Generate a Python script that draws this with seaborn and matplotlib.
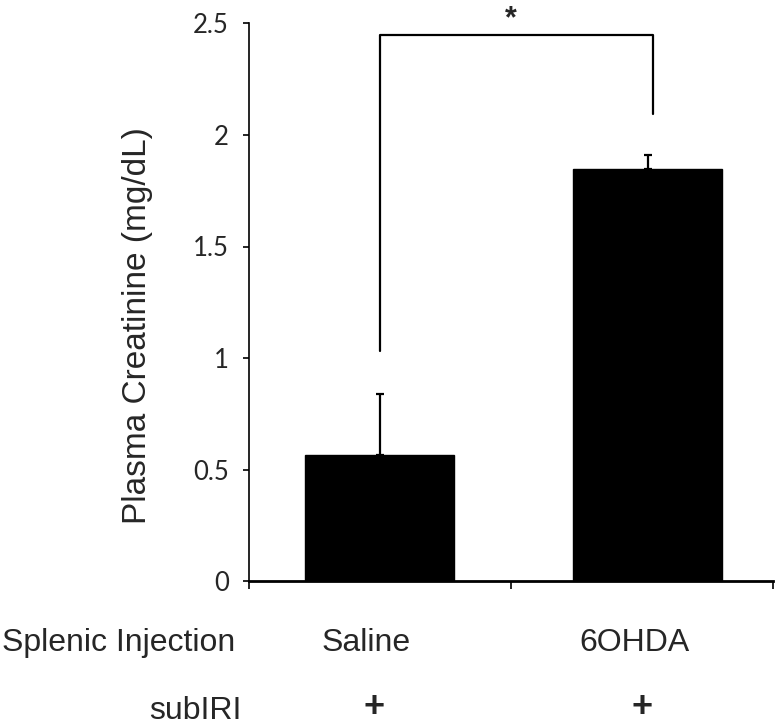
import matplotlib
matplotlib.use("Agg")
import matplotlib.pyplot as plt
import matplotlib.transforms as mtransforms
import pandas as pd
import seaborn as sns

# Datos
grupos = ["Saline", "6OHDA"]
media = [0.567, 1.848]
error_sup = [0.273, 0.062]
subiri = ["+", "+"]
yticks = [0, 0.5, 1, 1.5, 2, 2.5]
ytick_labels = ["0", "0.5", "1", "1.5", "2", "2.5"]

df = pd.DataFrame({"grupo": grupos, "media": media})

sns.set_style("white")
plt.rcParams["font.family"] = ["Liberation Sans", "DejaVu Sans"]

fig = plt.figure(figsize=(7.77, 7.25), dpi=100)
ax = fig.add_axes([0.3205, 0.1986, 0.6744, 0.769])

sns.barplot(data=df, x="grupo", y="media", color="black", width=0.556,
            saturation=1, errorbar=None, ax=ax)
for p in ax.patches:
    p.set_edgecolor("black")

# Barras de error solo hacia arriba
ax.errorbar(range(len(grupos)), media, yerr=[[0] * len(grupos), error_sup],
            fmt="none", ecolor="black", elinewidth=1.6, capsize=2.6,
            capthick=1.6, zorder=3)

ax.set_ylim(0, 2.5)
ax.set_xlim(-0.487, 1.468)
ax.set_yticks(yticks)
ax.set_yticklabels(ytick_labels, family=["Lato", "DejaVu Sans"], fontsize=18.5)
ax.set_xticks([-0.487, 0.49, 1.468])
ax.set_xticklabels([])
ax.set_xlabel("")
ax.set_ylabel("")
ax.tick_params(axis="y", direction="out", length=4.5, width=1.2, pad=10,
               color="black", left=True)
ax.tick_params(axis="x", direction="out", length=6, width=1.2,
               color="black", bottom=True)

for s in ["top", "right"]:
    ax.spines[s].set_visible(False)
ax.spines["left"].set_linewidth(1.2)
ax.spines["left"].set_color("black")
ax.spines["bottom"].set_linewidth(2.0)
ax.spines["bottom"].set_color("black")

# Etiqueta del eje y
fig.text(146 / 777, 1 - 326 / 725, "Plasma Creatinine (mg/dL)", rotation=90,
         ha="center", va="baseline", rotation_mode="anchor", fontsize=24)

# Corchete de significancia
ax.plot([0, 0, 1.02, 1.02], [1.03, 2.45, 2.45, 2.094], color="black",
        lw=1.6, clip_on=False)
ax.text(0.49, 2.52, "*", ha="center", va="center", fontsize=22,
        fontweight="bold", clip_on=False)

# Filas de texto debajo del eje
trans = mtransforms.blended_transform_factory(ax.transData, fig.transFigure)
fig.text(2 / 777, 1 - 643 / 725, "Splenic Injection", ha="left", va="center",
         fontsize=23)
fig.text(242 / 777, 1 - 711 / 725, "subIRI", ha="right", va="center",
         fontsize=23)
for i, g in enumerate(grupos):
    ax.text(i - 0.05, 1 - 643 / 725, g, transform=trans, ha="center",
            va="center", fontsize=23)
    ax.text(i - 0.02, 1 - 707 / 725, subiri[i], transform=trans, ha="center",
            va="center", fontsize=26, fontweight="bold")

plt.savefig("out.png", dpi=100)
